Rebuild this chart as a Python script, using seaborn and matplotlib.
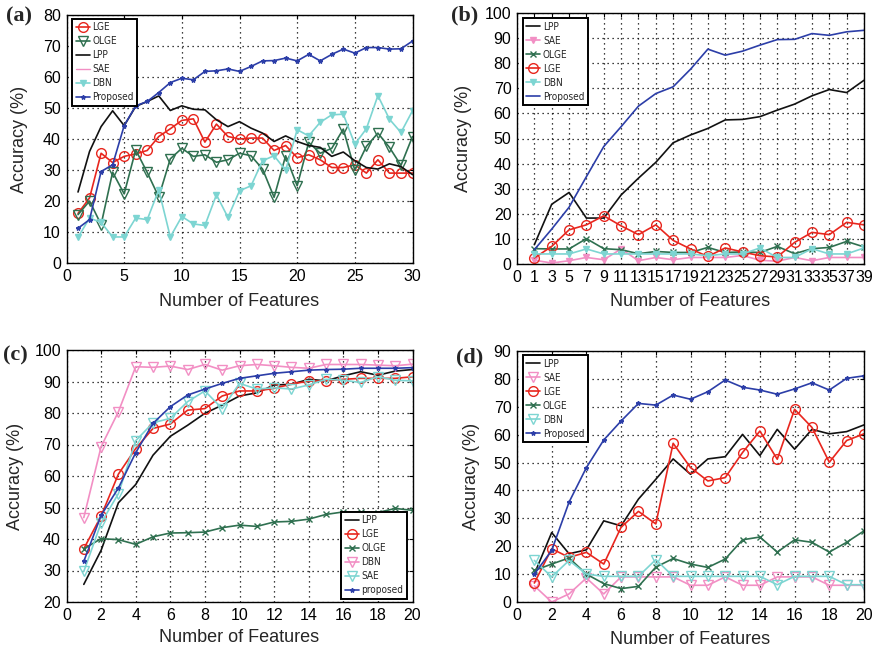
import matplotlib
matplotlib.use("Agg")
import matplotlib.pyplot as plt
from matplotlib.lines import Line2D
from matplotlib.font_manager import FontProperties
import seaborn as sns

# ---------------- data ----------------
# (a)
a_features = list(range(1, 31))
a_lge = [16, 21, 35.4, 32.4, 34.4, 35.2, 36.3, 40.8, 43.3, 46, 46.5, 39, 44.8, 40.8, 40,
         40.3, 40.3, 36.3, 37.9, 34, 34.9, 33.3, 30.8, 30.8, 31.7, 29, 33.3, 29, 29, 29]
a_olge = [15.6, 20, 12.4, 29.3, 22.3, 36.5, 29.2, 21.3, 33.6, 37, 34.4, 34.9, 32.5, 33.3, 35.4,
          34.6, 30.3, 21.2, 34.6, 24.9, 38.9, 35.4, 37, 43.2, 29.9, 37.6, 41.9, 37.3, 31.5, 40.8]
a_lpp = [22.9, 36, 44, 49.1, 44.3, 50.5, 52.1, 53.9, 49.2, 50.7, 49.6, 49.4, 46.2, 44, 45.6,
         43.5, 41.9, 39.2, 41, 39.2, 37.9, 37.3, 34.4, 35.8, 33, 30.8, 30.3, 32, 31.1, 28.5]
a_dbn = [8.3, 14.5, 13.1, 8.4, 8.4, 14.5, 14, 23.6, 8.4, 15, 12.6, 12.1, 22, 14.7, 23.3,
         24.9, 33, 34.6, 29.9, 43, 41, 45.4, 47.8, 48, 38.3, 43.3, 54, 46.4, 42.1, 49.1]
a_proposed = [11.2, 14, 29.5, 31.7, 44.3, 50.7, 52.1, 55, 58.2, 59.6, 59.1, 61.8, 62, 62.6, 61.8,
              63.4, 65.2, 65.3, 66.1, 65.2, 67.3, 65.2, 67.3, 69, 67.7, 69.5, 69.5, 69, 69.1, 71.6]

# (b)
b_features = list(range(1, 40, 2))
b_tick_labels = ["0"] + [str(v) for v in b_features]
b_lpp = [7.7, 23.8, 28.5, 18.3, 18.3, 27.5, 34.2, 40.5, 48.3, 51.4,
         54, 57.4, 57.6, 58.7, 61.3, 63.7, 67, 69.5, 68.3, 73.2]
b_sae = [1.5, 0.4, 1.3, 2.6, 1.7, 6, 1.3, 2.6, 1.7, 2.6,
         2.6, 2.6, 3.4, 1.5, 1.1, 2.6, 1.3, 2.6, 2.6, 2.6]
b_olge = [6.1, 6, 6, 10.1, 6.1, 5.7, 4.1, 5, 4.6, 4.6,
          6.6, 4.6, 4.8, 4.6, 7, 4.1, 6.1, 6.6, 9, 6.8]
b_lge = [2.4, 7, 13.6, 15.6, 19.2, 15.2, 11.7, 15.6, 9.4, 6,
         3, 6.4, 4.8, 3.3, 2.8, 8.6, 12.6, 11.7, 16.6, 15.6]
b_dbn = [4, 4, 4, 6, 4, 4, 4, 4, 4, 4,
         3.3, 4, 4, 6.4, 2.6, 2.6, 6.1, 4, 4, 6.4]
b_proposed = [5.7, 13.9, 22.6, 34.8, 46.8, 54.7, 62.9, 67.9, 70.6, 77.6,
              85.6, 83.2, 84.8, 87.2, 89.4, 89.5, 91.8, 91.1, 92.5, 93.1]

# (c)
c_features = list(range(1, 21))
c_lpp = [25.6, 36.4, 51.5, 57.3, 66.6, 72.6, 76.1, 79.9, 82.5, 85.4,
         86.4, 88.9, 89.1, 90.7, 90.2, 91.8, 93.1, 92, 93.3, 93.8]
c_lge = [36.9, 47.3, 60.6, 68.7, 75.1, 76.5, 80.9, 81.4, 85.4, 87,
         87, 87.8, 89.2, 90.1, 90.2, 90.7, 91, 91, 91, 91.5]
c_olge = [36.9, 40.1, 39.8, 38.3, 40.7, 41.9, 42, 42.2, 43.6, 44.4,
          44, 45.4, 45.6, 46.3, 47.8, 48.6, 48.6, 48.4, 49.7, 49.1]
c_dbn = [46.8, 69.3, 80.4, 94.7, 94.5, 94.9, 93.8, 95.4, 93.6, 95,
         95.4, 95, 94.5, 94.2, 95.4, 95.4, 95.4, 95.2, 95, 95.5]
c_sae = [29.7, 45.1, 54.4, 71.2, 76.9, 78.3, 83.6, 87, 81.4, 89.4,
         87.6, 88, 87.6, 88.9, 90.7, 90.4, 89.7, 91.5, 90.4, 90.2]
c_proposed = [32.9, 47.5, 56.2, 67.4, 76.7, 82, 85.7, 87.6, 89.4, 91,
              91.8, 92.6, 93.1, 93.6, 93.8, 93.9, 94.2, 94.2, 94.2, 94.4]

# (d)
d_features = list(range(1, 21))
d_lpp = [10, 24.9, 17.3, 18.7, 29.1, 27.3, 36.9, 44, 51.3, 45.8,
         51.3, 52.1, 60.1, 52.5, 61.9, 54.8, 61.9, 60.3, 61.1, 63.5]
d_sae = [5.8, 0, 2.9, 8.6, 2.9, 9, 9, 9, 9, 6,
         6, 9, 6, 6, 9, 9, 9, 6, 6, 6]
d_lge = [6.8, 19.1, 16, 17.8, 13.6, 26.8, 32.5, 28, 56.9, 48.2,
         43.4, 44.6, 53.6, 61.3, 51.2, 69.1, 62.6, 50.1, 57.9, 60.3]
d_olge = [11.3, 13.6, 15.8, 10, 6.6, 4.8, 5.6, 12.5, 15.6, 13.6,
          12.4, 15.4, 22.3, 23.3, 17.9, 22.3, 21.4, 17.9, 21.4, 25.5]
d_dbn = [14.9, 9, 14.9, 10, 9.2, 9.2, 9.2, 15.2, 9.2, 9.2,
         9.2, 9.2, 9.2, 9.2, 6.2, 9.2, 9.2, 9.2, 6.2, 6.2]
d_proposed = [10, 18.5, 35.8, 48.2, 58.1, 64.9, 71.2, 70.6, 74.2, 72.7,
              75.4, 79.6, 77, 76, 74.5, 76.4, 78.6, 76, 80.2, 81.1]

# ---------------- style ----------------
sns.set_style("white")
plt.rcParams["font.family"] = ["Liberation Sans", "DejaVu Sans"]

RED = "#e8261e"
GREEN = "#2f7050"
CYAN = "#7dd5d2"
PINK = "#f28fc4"
BLUE = "#2c3ea8"
BLACK = "#111111"

W, H = 876, 653
fig = plt.figure(figsize=(W / 100, H / 100), dpi=100)


def px_axes(left, top, right, bottom):
    return fig.add_axes([left / W, 1 - bottom / H, (right - left) / W, (bottom - top) / H])


def draw(ax, x, y, color, label, marker="", ms=6.5, filled=False, mew=1.0, lw=1.2):
    sns.lineplot(x=x, y=y, ax=ax, color=color, marker=marker, markersize=ms,
                 markerfacecolor=(color if filled else "none"), markeredgecolor=color,
                 markeredgewidth=mew, linewidth=lw, label=label, legend=False,
                 sort=False, errorbar=None)
    return ax.lines[-1]


def finish(ax, xlim, ylim, xticks, yticks, xticklabels=None):
    ax.set_xlim(*xlim)
    ax.set_ylim(*ylim)
    ax.set_xticks(xticks)
    if xticklabels is not None:
        ax.set_xticklabels(xticklabels)
    ax.set_yticks(yticks)
    ax.grid(True, linestyle=(0, (1, 3)), color="black", linewidth=0.9)
    for s in ax.spines.values():
        s.set_color("black")
        s.set_linewidth(1.0)
    ax.tick_params(axis="both", direction="in", length=3, width=0.8, labelsize=11.5,
                   colors="black", top=True, right=True, pad=4)
    ax.set_xlabel("")
    ax.set_ylabel("")


legend_font = FontProperties(family=["Liberation Sans Narrow", "DejaVu Sans"],
                             stretch="condensed", size=7.2)


def add_legend(ax, handles, loc, anchor):
    leg = ax.legend(handles=handles, labels=[h.get_label() for h in handles], loc=loc,
                    bbox_to_anchor=anchor, borderaxespad=0, prop=legend_font,
                    handlelength=1.4, handletextpad=0.25, labelspacing=0.4,
                    borderpad=0.35, fancybox=False, framealpha=1, edgecolor="black")
    leg.get_frame().set_linewidth(1.4)
    return leg


def panel_text(x, y, letter, ylab_x, ylab_y, xlab_x, xlab_y):
    fig.text(x / W, 1 - y / H, letter, fontsize=16, fontweight="bold",
             family=["Liberation Serif", "DejaVu Serif"], ha="left", va="center")
    fig.text(ylab_x / W, 1 - ylab_y / H, "Accuracy (%)", rotation=90, fontsize=13,
             ha="center", va="center")
    fig.text(xlab_x / W, 1 - xlab_y / H, "Number of Features", fontsize=13,
             ha="center", va="center")


# ---------------- (a) ----------------
ax = px_axes(66.5, 15, 412.5, 263)
h = []
h.append(draw(ax, a_features, a_lge, RED, "LGE", "o", ms=7))
h.append(draw(ax, a_features, a_olge, GREEN, "OLGE", "v", ms=7))
h.append(draw(ax, a_features, a_lpp, BLACK, "LPP"))
h.append(Line2D([], [], color=PINK, lw=1.0, label="SAE"))
h.append(draw(ax, a_features, a_dbn, CYAN, "DBN", "v", ms=4.5, filled=True))
h.append(draw(ax, a_features, a_proposed, BLUE, "Proposed", "*", ms=3.2, filled=True))
finish(ax, (0, 30), (0, 80), range(0, 31, 5), range(0, 81, 10))
add_legend(ax, h, "upper left", (0.016, 0.984))
panel_text(6, 16, "(a)", 20, 139, 239.5, 302)

# ---------------- (b) ----------------
ax = px_axes(517, 13, 864, 264)
b_pos = list(range(1, len(b_features) + 1))
h = []
h.append(draw(ax, b_pos, b_lpp, BLACK, "LPP"))
h.append(draw(ax, b_pos, b_sae, PINK, "SAE", "v", ms=4.5, filled=True))
h.append(draw(ax, b_pos, b_olge, GREEN, "OLGE", "x", ms=4.5))
h.append(draw(ax, b_pos, b_lge, RED, "LGE", "o", ms=7))
h.append(draw(ax, b_pos, b_dbn, CYAN, "DBN", "v", ms=4.5, filled=True))
h.append(draw(ax, b_pos, b_proposed, BLUE, "Proposed"))
finish(ax, (0, len(b_features)), (0, 100), range(0, len(b_features) + 1), range(0, 101, 10),
       xticklabels=b_tick_labels)
add_legend(ax, h, "upper left", (0.017, 0.98))
panel_text(451, 15, "(b)", 463, 138, 690, 302)

# ---------------- (c) ----------------
ax = px_axes(66.5, 350, 412.5, 602)
h = []
h.append(draw(ax, c_features, c_lpp, BLACK, "LPP"))
h.append(draw(ax, c_features, c_lge, RED, "LGE", "o", ms=7))
h.append(draw(ax, c_features, c_olge, GREEN, "OLGE", "x", ms=4.5))
h.append(draw(ax, c_features, c_dbn, PINK, "DBN", "v", ms=7))
h.append(draw(ax, c_features, c_sae, CYAN, "SAE", "v", ms=7))
h.append(draw(ax, c_features, c_proposed, BLUE, "proposed", "*", ms=3.2, filled=True))
finish(ax, (0, 20), (20, 100), range(0, 21, 2), range(20, 101, 10))
add_legend(ax, h, "lower right", (0.984, 0.012))
panel_text(3, 355, "(c)", 16, 476, 239.5, 638)

# ---------------- (d) ----------------
ax = px_axes(517, 351, 864, 602)
h = []
h.append(draw(ax, d_features, d_lpp, BLACK, "LPP"))
h.append(draw(ax, d_features, d_sae, PINK, "SAE", "v", ms=7))
h.append(draw(ax, d_features, d_lge, RED, "LGE", "o", ms=7))
h.append(draw(ax, d_features, d_olge, GREEN, "OLGE", "x", ms=4.5))
h.append(draw(ax, d_features, d_dbn, CYAN, "DBN", "v", ms=7))
h.append(draw(ax, d_features, d_proposed, BLUE, "Proposed", "*", ms=3.2, filled=True))
finish(ax, (0, 20), (0, 90), range(0, 21, 2), range(0, 91, 10))
add_legend(ax, h, "upper left", (0.017, 0.984))
panel_text(456, 357, "(d)", 471, 476, 690, 640)

fig.savefig("out.png", dpi=100)
